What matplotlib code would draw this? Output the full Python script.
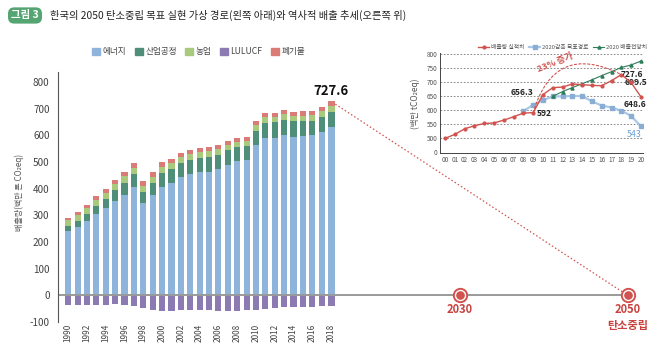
import numpy as np
import matplotlib
matplotlib.use("Agg")
import matplotlib.pyplot as plt
from matplotlib.patches import Patch

plt.rcParams['font.family'] = ['Noto Sans CJK KR', 'DejaVu Sans']

# 부문별 온실가스 배출량 (백만 톤 CO2eq), 1990-2018
years = np.arange(1990, 2019)
energy = [240.2, 257.6, 279.6, 307.1, 329.2, 354.1, 377.7, 406.7, 346.7, 376.4,
          407.1, 421.2, 442.6, 453.7, 461.4, 464.7, 472.5, 488.9, 502.5, 508.2,
          563.3, 590.3, 591.3, 600.2, 595.1, 599.1, 600.8, 613.5, 632.4]
industry = [20.4, 22.9, 25.6, 29.7, 32.6, 40.4, 45.5, 48.6, 42.0, 46.9,
            53.2, 52.2, 53.8, 55.5, 54.1, 55.7, 55.0, 54.8, 53.6, 50.7,
            55.2, 56.7, 58.4, 57.9, 57.6, 54.7, 53.9, 56.7, 57.0]
agriculture = [21.0, 21.3, 21.8, 22.4, 22.6, 23.0, 23.5, 23.7, 22.8, 22.5,
               21.8, 21.6, 21.0, 20.6, 20.9, 20.6, 20.5, 21.1, 20.9, 21.1,
               21.9, 21.0, 20.8, 20.8, 21.0, 20.7, 20.6, 20.9, 21.2]
waste = [10.4, 11.2, 12.0, 12.8, 13.6, 14.5, 15.3, 16.0, 16.5, 17.2,
         17.9, 17.0, 16.6, 16.2, 15.6, 15.0, 15.0, 15.2, 15.0, 15.0,
         14.6, 15.0, 15.5, 16.1, 16.3, 16.5, 16.7, 16.9, 17.0]
lulucf = [-37.8, -35.5, -35.5, -34.6, -35.2, -31.8, -36.2, -39.6, -46.6, -54.6,
          -58.4, -58.8, -56.8, -55.7, -56.0, -55.9, -57.2, -58.8, -58.4, -56.8,
          -54.2, -51.9, -48.3, -44.7, -43.2, -44.5, -45.6, -41.6, -41.3]
year_ticks = list(range(1990, 2019, 2))
y_ticks = list(range(-100, 801, 100))
milestones = [2030, 2050]
milestone_labels = ['2030', '2050\n탄소중립']

# 2000-2020 배출 추세 (인셋)
trend_x = np.arange(0, 21)
trend_labels = [f'{i:02d}' for i in trend_x]
actual = [500, 514, 534, 545, 553, 555, 565, 577, 590, 592, 656.3,
          681, 683, 694, 692, 689, 688, 706, 727.6, 699.5, 648.6]
target_x = np.arange(8, 21)
target = [597, 620, 636, 650, 650, 651, 651, 632, 617, 610, 599, 580, 543]
bau_x = np.arange(11, 21)
bau = [650, 667, 681, 695, 709, 724, 738, 753, 762, 776]
inset_ticks = [0, 500, 550, 600, 650, 700, 750, 800]

c_energy = '#8fb4dc'
c_industry = '#4f8f7a'
c_agri = '#a9c97c'
c_lulucf = '#8c7bb3'
c_waste = '#db7b77'
red = '#d0534f'

fig = plt.figure(figsize=(6.58, 3.44), dpi=100)

# 제목
fig.text(0.038, 0.955, '그림 3', color='white', fontsize=7.5, fontweight='bold',
         ha='center', va='center',
         bbox=dict(boxstyle='round,pad=0.3,rounding_size=0.6', fc='#55a572', ec='none'))
fig.text(0.076, 0.955, '한국의 2050 탄소중립 목표 실현 가상 경로(왼쪽 아래)와 역사적 배출 추세(오른쪽 위)',
         fontsize=7.4, color='#222222', ha='left', va='center')

# 왼쪽 막대 그래프: 2018 이후 구간은 압축된 축척
xp = [1900, 2018, 2030, 2050, 2100]
xd = [1900, 2018, 2031.75, 2049.6, 2094.2]
fwd = lambda x: np.interp(x, xp, xd)
inv = lambda x: np.interp(x, xd, xp)

ax = fig.add_axes([0.088, 0.064, 0.885, 0.728])
ax.set_xscale('function', functions=(fwd, inv))

w = 0.65
e = np.array(energy)
ind = np.array(industry)
ag = np.array(agriculture)
ws = np.array(waste)
ax.bar(years, e, w, color=c_energy)
ax.bar(years, ind, w, bottom=e, color=c_industry)
ax.bar(years, ag, w, bottom=e + ind, color=c_agri)
ax.bar(years, lulucf, w, color=c_lulucf)
ax.bar(years, ws, w, bottom=e + ind + ag, color=c_waste)
total = e + ind + ag + ws

ax.set_xlim(1988.9, 2051.5)
ax.set_ylim(-100, 840)
ax.hlines(0, 1988.9, milestones[-1], color='#9a9a9a', lw=1.4, zorder=1)

ax.text(years[-1], total[-1] + 12, f'{total[-1]:.1f}', fontsize=9.5,
        fontweight='bold', ha='center', va='bottom', color='#111111')
ax.plot([years[-1] + 0.4, milestones[-1]], [total[-1] - 10, 0], ls=(0, (1.2, 1.8)),
        color=red, lw=0.9, zorder=2)

for m, lab in zip(milestones, milestone_labels):
    ax.plot(m, 0, 'o', ms=10, color=red, zorder=4, clip_on=False)
    ax.plot(m, 0, 'o', ms=7.2, color='white', zorder=5, clip_on=False)
    ax.plot(m, 0, 'o', ms=5.2, color=red, zorder=6, clip_on=False)
    ax.text(m, -29, lab, fontsize=8, fontweight='bold', color='#c8423e',
            ha='center', va='top', linespacing=1.25)

ax.set_xticks(year_ticks)
ax.set_xticklabels([str(y) for y in year_ticks], rotation=90, fontsize=5.9, color='#444444')
ax.set_yticks(y_ticks)
ax.set_yticklabels([str(v) for v in y_ticks], fontsize=7.2, color='#444444')
ax.tick_params(axis='x', length=0, pad=1.5)
ax.tick_params(axis='y', length=0, pad=6)
for s in ['top', 'right', 'bottom']:
    ax.spines[s].set_visible(False)
ax.spines['left'].set_color('#555555')
ax.spines['left'].set_linewidth(0.8)

fig.text(0.030, 0.44, '배출량(백만 톤 CO₂eq)', rotation=90, fontsize=5.8,
         color='#555555', ha='center', va='center')

handles = [Patch(color=c) for c in [c_energy, c_industry, c_agri, c_lulucf, c_waste]]
fig.legend(handles, ['에너지', '산업공정', '농업', 'LULUCF', '폐기물'],
           loc='center', bbox_to_anchor=(0.302, 0.849), ncol=5, frameon=False,
           fontsize=6.2, handlelength=0.9, handleheight=0.9, handletextpad=0.3,
           columnspacing=1.0, labelcolor='#444444')

# 오른쪽 위 인셋: 2000-2020 배출 추세
ia = fig.add_axes([0.6689, 0.5547, 0.3088, 0.2898])
yb = lambda v: np.where(np.asarray(v) <= 0, 450, v)
ia.set_xlim(-0.5, 20.25)
ia.set_ylim(447, 803)
for gy in inset_ticks[1:]:
    ia.axhline(gy, color='#777777', lw=0.6, ls=(0, (2, 2)), zorder=0)

ia.plot(target_x, target, color='#a9c8e8', lw=1.6, marker='s', ms=2.2,
        mfc='#8aaed3', mec='#8aaed3', zorder=3, label='2020감축 목표경로')
ia.plot(bau_x, bau, color='#2e7d5b', lw=0.8, marker='^', ms=2.2, zorder=3,
        label='2020 배출전망치')
ia.plot(trend_x, actual, color=red, lw=1.0, marker='o', ms=2.0, zorder=4,
        label='배출량 실적치')

ia.annotate('', xy=(18, actual[18]), xytext=(9, actual[9]),
            arrowprops=dict(arrowstyle='-', ls=(0, (2, 2)), color=red, lw=0.8,
                            connectionstyle='arc3,rad=-0.6', shrinkA=0, shrinkB=0))
ia.text(11.3, 770, '23% 증가', color=red, fontsize=6.5, fontweight='bold',
        rotation=22, ha='center', va='center')

lab_kw = dict(fontsize=6.1, fontweight='bold', color='#222222', va='center')
ia.text(9.0, actual[10] + 8, f'{actual[10]:.1f}', ha='right', **lab_kw)
ia.text(9.35, actual[9] - 4, f'{actual[9]:.0f}', ha='left', **lab_kw)
ia.text(17.9, actual[18] + 2, f'{actual[18]:.1f}', ha='left', **lab_kw)
ia.text(18.3, actual[19], f'{actual[19]:.1f}', ha='left', **lab_kw)
ia.text(18.2, actual[20] - 28, f'{actual[20]:.1f}', ha='left', **lab_kw)
ia.text(18.6, target[-1] - 31, f'{target[-1]:.0f}', ha='left', fontsize=6.3,
        color='#6a9fd4', va='center')

ia.set_xticks(trend_x)
ia.set_xticklabels(trend_labels, fontsize=4.6, color='#555555')
ia.set_yticks(yb(inset_ticks))
ia.set_yticklabels([str(v) for v in inset_ticks], fontsize=4.6, color='#555555')
ia.tick_params(length=0, pad=2)
for s in ['top', 'right']:
    ia.spines[s].set_visible(False)
for s in ['left', 'bottom']:
    ia.spines[s].set_color('#444444')
    ia.spines[s].set_linewidth(0.7)
ia.set_ylabel('(백만 tCO₂eq)', fontsize=6, color='#555555', labelpad=5)

leg_order = [2, 0, 1]
h, l = ia.get_legend_handles_labels()
fig.legend([h[i] for i in leg_order], [l[i] for i in leg_order], loc='center',
           bbox_to_anchor=(0.855, 0.863), ncol=3, frameon=False, fontsize=4.2,
           handlelength=1.8, handletextpad=0.3, columnspacing=0.9,
           labelcolor='#555555')

fig.savefig('out.png', dpi=100, facecolor='white')
